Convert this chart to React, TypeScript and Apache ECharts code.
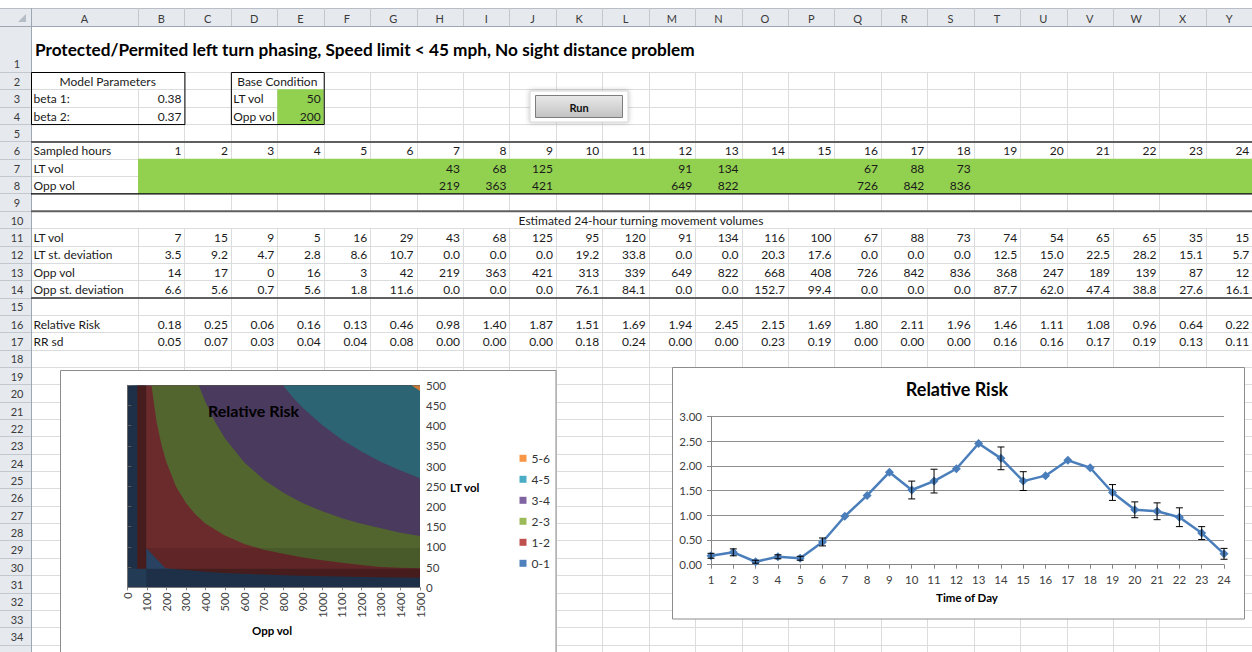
import React, { useEffect, useRef } from "react";
import * as echarts from "echarts";

// ---------------- data ----------------
const TITLE = "Protected/Permited left turn phasing, Speed limit < 45 mph, No sight distance problem";
const COLUMN_LETTERS = ["A","B","C","D","E","F","G","H","I","J","K","L","M","N","O","P","Q","R","S","T","U","V","W","X","Y"];
const HOURS = [1,2,3,4,5,6,7,8,9,10,11,12,13,14,15,16,17,18,19,20,21,22,23,24];
const MODEL_PARAMETERS: [string, string][] = [["beta 1:", "0.38"], ["beta 2:", "0.37"]];
const BASE_CONDITION: [string, string][] = [["LT vol", "50"], ["Opp vol", "200"]];
const LT_SAMPLED: (number | null)[] = [null,null,null,null,null,null,43,68,125,null,null,91,134,null,null,67,88,73,null,null,null,null,null,null];
const OPP_SAMPLED: (number | null)[] = [null,null,null,null,null,null,219,363,421,null,null,649,822,null,null,726,842,836,null,null,null,null,null,null];
const LT_VOL = [7,15,9,5,16,29,43,68,125,95,120,91,134,116,100,67,88,73,74,54,65,65,35,15];
const LT_SD = [3.5,9.2,4.7,2.8,8.6,10.7,0,0,0,19.2,33.8,0,0,20.3,17.6,0,0,0,12.5,15.0,22.5,28.2,15.1,5.7];
const OPP_VOL = [14,17,0,16,3,42,219,363,421,313,339,649,822,668,408,726,842,836,368,247,189,139,87,12];
const OPP_SD = [6.6,5.6,0.7,5.6,1.8,11.6,0,0,0,76.1,84.1,0,0,152.7,99.4,0,0,0,87.7,62.0,47.4,38.8,27.6,16.1];
const RELATIVE_RISK = [0.18,0.25,0.06,0.16,0.13,0.46,0.98,1.40,1.87,1.51,1.69,1.94,2.45,2.15,1.69,1.80,2.11,1.96,1.46,1.11,1.08,0.96,0.64,0.22];
const RR_SD = [0.05,0.07,0.03,0.04,0.04,0.08,0,0,0,0.18,0.24,0,0,0.23,0.19,0,0,0,0.16,0.16,0.17,0.19,0.13,0.11];

// contour chart: risk bands and band boundaries [Opp vol, LT vol] read from the surface
const RISK_BANDS = ["0-1", "1-2", "2-3", "3-4", "4-5", "5-6"];
const BOUNDARY_1 = [[51,500],[51,46],[97,46],[97,97],[195,47],[300,43],[400,38.7],[500,35.6],[600,33.3],[700,31.5],[800,29.9],[900,28.7],[1000,27.6],[1100,26.6],[1200,25.8],[1300,25],[1400,24.3],[1500,23.7]];
const BOUNDARY_2 = [[124,500],[150,410],[175,353],[200,310],[250,249],[300,209],[350,180],[400,158],[500,128],[600,107],[700,93],[800,83],[900,74],[1000,67],[1100,61],[1200,55],[1300,50],[1400,48.5],[1500,47]];
const BOUNDARY_3 = [[366,500],[400,459],[450,409],[500,369],[600,309],[700,266],[800,234],[900,208],[1000,188],[1100,171],[1200,157],[1300,146],[1400,135],[1500,127]];
const BOUNDARY_4 = [[797,500],[850,469],[900,444],[1000,401],[1100,365],[1200,336],[1300,310],[1400,289],[1500,270]];
const BOUNDARY_5 = [[1456,500],[1500,486]];
const BOUNDARIES = [BOUNDARY_1, BOUNDARY_2, BOUNDARY_3, BOUNDARY_4, BOUNDARY_5];
// surface cells shaded differently by the 3-D lighting: [opp1, lt1, opp2, lt2]
const SHADED_CELLS = [[0,46,97,500],[97,0,1500,46],[0,0,97,46],[97,46,1500,97]];

// ---------------- styling / layout ----------------
const FONT = "Lato, 'Open Sans', sans-serif";
const SHADE_ALPHA = [0.34, 0.34, 0.2, 0.1];
const CONTOUR_COLORS = ["#2e4a6c", "#6b2b2c", "#52652f", "#4a3a5e", "#2c6474", "#c97a36"];
const LEGEND_COLORS = ["#4f81bd", "#c0504d", "#9bbb59", "#8064a2", "#4bacc6", "#f79646"];
const W = 1252, H = 652;
const COL0 = 31, COLB = 138, COLW = 46.43;
const HEAD_TOP = 8, HEAD_BOTTOM = 26, ROW2_TOP = 72, ROWH = 17.35;
const colLeft = (i: number) => (i === 0 ? COL0 : COLB + (i - 1) * COLW);
const colRight = (i: number) => (i === 0 ? COLB : COLB + i * COLW);
const rowTop = (r: number) => (r === 1 ? HEAD_BOTTOM : ROW2_TOP + (r - 2) * ROWH);
const rowMid = (r: number) => (rowTop(r) + rowTop(r + 1)) / 2 + 0.7;

const Z = { grid: -20, fill: -19, border: -18, text: -17, frame: -16, over: 20 };

function sheetGraphics() {
  const els: any[] = [];
  const L = (x1: number, y1: number, x2: number, y2: number, stroke: string, lw: number, z: number) =>
    els.push({ type: "line", silent: true, z, shape: { x1, y1, x2, y2 }, style: { stroke, lineWidth: lw } });
  const R = (x: number, y: number, w: number, h: number, fill: any, z: number, stroke?: string, lw?: number, extra?: any) =>
    els.push({ type: "rect", silent: true, z, shape: { x, y, width: w, height: h }, style: { fill, stroke: stroke || null, lineWidth: lw || 0, ...(extra || {}) } });
  const T = (x: number, y: number, s: string, font: string, fill: string, align: string, z: number) =>
    els.push({ type: "text", silent: true, z, x, y, style: { text: s, font, fill, textAlign: align, textVerticalAlign: "middle", align, verticalAlign: "middle" } });

  const cellFont = `12px ${FONT}`;
  const textColor = "#1a1a1a";
  const gridColor = "#dadcdd";
  const lastRow = 36;

  // gridlines
  for (let r = 2; r <= lastRow; r++) {
    const y = Math.round(rowTop(r)) + 0.5;
    L(COL0, y, W, y, gridColor, 1, Z.grid);
  }
  for (let i = 1; i <= COLUMN_LETTERS.length; i++) {
    const x = Math.round(colLeft(i)) + 0.5;
    L(x, ROW2_TOP, x, rowTop(10), gridColor, 1, Z.grid);
    L(x, rowTop(11), x, H, gridColor, 1, Z.grid);
  }
  // merged cells A2:B2 and D2:E2
  R(colLeft(0) + 1, rowTop(2) + 1, colRight(1) - colLeft(0) - 2, ROWH - 1.5, "#fff", Z.fill);
  R(colLeft(3) + 1, rowTop(2) + 1, colRight(4) - colLeft(3) - 2, ROWH - 1.5, "#fff", Z.fill);
  // green input cells
  R(colLeft(4), rowTop(3), COLW, 2 * ROWH, "#92d050", Z.fill);
  R(colLeft(1), rowTop(7), W - colLeft(1), 2 * ROWH, "#92d050", Z.fill);

  // headers
  R(0, HEAD_TOP, W, HEAD_BOTTOM - HEAD_TOP, "#e6e9ee", Z.fill);
  R(0, HEAD_BOTTOM, COL0, H - HEAD_BOTTOM, "#e6e9ee", Z.fill);
  L(0, HEAD_TOP + 0.5, W, HEAD_TOP + 0.5, "#b9bec6", 1, Z.border);
  L(0, HEAD_BOTTOM + 0.5, W, HEAD_BOTTOM + 0.5, "#9ea6b1", 1, Z.border);
  L(COL0 + 0.5, HEAD_TOP, COL0 + 0.5, H, "#9ea6b1", 1, Z.border);
  els.push({ type: "polygon", silent: true, z: Z.border, shape: { points: [[18, 22], [26, 22], [26, 14]] }, style: { fill: "#b4bcc6" } });
  for (let i = 0; i < COLUMN_LETTERS.length; i++) {
    const x = Math.round(colRight(i)) + 0.5;
    L(x, HEAD_TOP, x, HEAD_BOTTOM, "#c3c8cf", 1, Z.border);
    T((colLeft(i) + colRight(i)) / 2, (HEAD_TOP + HEAD_BOTTOM) / 2 + 1, COLUMN_LETTERS[i], `11px ${FONT}`, "#3b3b3b", "center", Z.text);
  }
  for (let r = 1; r <= lastRow; r++) {
    const yb = Math.round(rowTop(r + 1)) + 0.5;
    L(0, yb, COL0, yb, "#c3c8cf", 1, Z.border);
    const ym = r === 1 ? rowTop(2) - 9 : rowMid(r);
    if (ym < H - 8) T(17, ym, String(r), `11px ${FONT}`, "#3b3b3b", "center", Z.text);
  }

  // borders
  const thick = "#5f5f5f";
  L(COL0, rowTop(6) + 0.5, W, rowTop(6) + 0.5, thick, 2, Z.border);
  L(COL0, rowTop(9) + 0.5, W, rowTop(9) + 0.5, "#000", 1.2, Z.border);
  L(COL0, rowTop(10) + 0.5, W, rowTop(10) + 0.5, thick, 2, Z.border);
  L(COL0, rowTop(15) + 0.5, W, rowTop(15) + 0.5, thick, 2, Z.border);
  R(COL0 + 0.5, rowTop(2) + 0.5, colRight(1) - COL0, rowTop(5) - rowTop(2), null, Z.border, "#000", 1);
  R(colLeft(3) + 0.5, rowTop(2) + 0.5, colRight(4) - colLeft(3), rowTop(5) - rowTop(2), null, Z.border, "#000", 1);

  // texts
  T(35, 49, TITLE, `bold 17.2px ${FONT}`, "#000", "left", Z.text);
  T((COL0 + colRight(1)) / 2, rowMid(2), "Model Parameters", cellFont, textColor, "center", Z.text);
  T((colLeft(3) + colRight(4)) / 2, rowMid(2), "Base Condition", cellFont, textColor, "center", Z.text);
  MODEL_PARAMETERS.forEach(([k, v], j) => {
    T(33.5, rowMid(3 + j), k, cellFont, textColor, "left", Z.text);
    T(colRight(1) - 3, rowMid(3 + j), v, cellFont, textColor, "right", Z.text);
  });
  BASE_CONDITION.forEach(([k, v], j) => {
    T(colLeft(3) + 2.5, rowMid(3 + j), k, cellFont, textColor, "left", Z.text);
    T(colRight(4) - 3, rowMid(3 + j), v, cellFont, textColor, "right", Z.text);
  });
  const rows: [number, string, (number | null)[], number][] = [
    [6, "Sampled hours", HOURS, 0],
    [7, "LT vol", LT_SAMPLED, 0],
    [8, "Opp vol", OPP_SAMPLED, 0],
    [11, "LT vol", LT_VOL, 0],
    [12, "LT st. deviation", LT_SD, 1],
    [13, "Opp vol", OPP_VOL, 0],
    [14, "Opp st. deviation", OPP_SD, 1],
    [16, "Relative Risk", RELATIVE_RISK, 2],
    [17, "RR sd", RR_SD, 2],
  ];
  rows.forEach(([r, label, vals, dec]) => {
    T(33.5, rowMid(r), label, cellFont, textColor, "left", Z.text);
    vals.forEach((v, i) => {
      if (v === null) return;
      T(colRight(i + 1) - 3, rowMid(r), v.toFixed(dec), cellFont, textColor, "right", Z.text);
    });
  });
  T(641, rowMid(10), "Estimated 24-hour turning movement volumes", cellFont, textColor, "center", Z.text);

  // Run button
  R(530, 91, 98, 31, "#ffffff", Z.border, "#d6d6d6", 1, { shadowBlur: 5, shadowColor: "rgba(0,0,0,0.25)" });
  R(535.5, 95.5, 87, 22, new echarts.graphic.LinearGradient(0, 0, 0, 1, [
    { offset: 0, color: "#e9e9e9" }, { offset: 1, color: "#c2c2c2" }]), Z.border, "#7d7d7d", 1);
  T(579, 107, "Run", `bold 11px ${FONT}`, "#111", "center", Z.text);

  // chart frames
  R(60.5, 370.5, 495.5, 300, "#ffffff", Z.frame, "#8c8c8c", 1);
  R(672.5, 367.5, 572, 251.5, "#ffffff", Z.frame, "#8c8c8c", 1);

  // chart texts
  T(208, 410, "Relative Risk", `bold 16px ${FONT}`, "#000", "left", Z.over);
  T(450, 487, "LT vol", `bold 11.5px ${FONT}`, "#000", "left", Z.over);
  T(272, 630, "Opp vol", `bold 11.5px ${FONT}`, "#000", "center", Z.over);
  T(957, 389, "Relative Risk", `bold 18px ${FONT}`, "#000", "center", Z.over);
  T(967, 597, "Time of Day", `bold 11.5px ${FONT}`, "#000", "center", Z.over);
  return els;
}

function buildOption(): any {
  const axisGray = "#868686";
  const labelColor = "#404040";
  const contourSeries = BOUNDARIES.map((pts, k) => ({
    name: RISK_BANDS[k + 1],
    type: "line",
    xAxisIndex: 0,
    yAxisIndex: 0,
    data: pts,
    symbol: "none",
    silent: true,
    clip: true,
    z: 2,
    lineStyle: { width: 0, color: CONTOUR_COLORS[k + 1] },
    itemStyle: { color: CONTOUR_COLORS[k + 1] },
    areaStyle: { color: CONTOUR_COLORS[k + 1], opacity: 1, origin: "end" },
  }));
  return {
    animation: false,
    textStyle: { fontFamily: FONT },
    graphic: { elements: sheetGraphics() },
    grid: [
      { left: 127.3, top: 385.3, width: 292.7, height: 202, show: true, backgroundColor: CONTOUR_COLORS[0], borderWidth: 0 },
      { left: 711, top: 416.3, width: 513, height: 148.4 },
    ],
    legend: {
      orient: "vertical",
      left: 519.5,
      top: 451.3,
      padding: 0,
      itemWidth: 7,
      itemHeight: 7,
      itemGap: 7,
      icon: "rect",
      selectedMode: false,
      textStyle: { fontSize: 12, color: "#333", lineHeight: 14, fontFamily: FONT },
      data: RISK_BANDS.map((n, i) => ({ name: n, itemStyle: { color: LEGEND_COLORS[i] } })).reverse(),
    },
    xAxis: [
      {
        gridIndex: 0, type: "value", min: 0, max: 1500, interval: 100, position: "bottom",
        axisLine: { show: true, lineStyle: { color: axisGray } },
        axisTick: { show: true, length: 3, lineStyle: { color: axisGray } },
        axisLabel: { rotate: 90, fontSize: 11, color: labelColor, margin: 5, formatter: (v: number) => String(v) },
        splitLine: { show: false },
      },
      {
        gridIndex: 1, type: "category", data: HOURS.map(String), boundaryGap: false,
        axisLine: { show: true, lineStyle: { color: axisGray } },
        axisTick: { show: true, length: 4, alignWithLabel: true, lineStyle: { color: axisGray } },
        axisLabel: { fontSize: 11.5, color: labelColor, margin: 9 },
        splitLine: { show: false },
      },
    ],
    yAxis: [
      {
        gridIndex: 0, type: "value", min: 0, max: 500, interval: 50, position: "right",
        axisLine: { show: true, lineStyle: { color: axisGray } },
        axisTick: { show: true, length: 4, lineStyle: { color: axisGray } },
        axisLabel: { fontSize: 11.5, color: labelColor, margin: 6 },
        splitLine: { show: false },
      },
      {
        gridIndex: 1, type: "value", min: 0, max: 3, interval: 0.5,
        axisLine: { show: true, lineStyle: { color: axisGray } },
        axisTick: { show: true, length: 4, lineStyle: { color: axisGray } },
        axisLabel: { fontSize: 11.5, color: labelColor, margin: 9, formatter: (v: number) => v.toFixed(2) },
        splitLine: { show: true, lineStyle: { color: "#8f8f8f", width: 1 } },
      },
    ],
    series: [
      { name: RISK_BANDS[0], type: "line", xAxisIndex: 0, yAxisIndex: 0, data: [], silent: true, itemStyle: { color: CONTOUR_COLORS[0] } },
      ...contourSeries,
      {
        type: "custom", xAxisIndex: 0, yAxisIndex: 0, silent: true, z: 3,
        data: SHADED_CELLS,
        renderItem: (params: any, api: any) => {
          const p1 = api.coord([api.value(0), api.value(1)]);
          const p2 = api.coord([api.value(2), api.value(3)]);
          return {
            type: "rect",
            shape: { x: Math.min(p1[0], p2[0]), y: Math.min(p1[1], p2[1]), width: Math.abs(p2[0] - p1[0]), height: Math.abs(p2[1] - p1[1]) },
            style: { fill: `rgba(0,0,0,${SHADE_ALPHA[params.dataIndex]})` },
          };
        },
      },
      {
        name: "Relative Risk", type: "line", xAxisIndex: 1, yAxisIndex: 1, data: RELATIVE_RISK, z: 3,
        symbol: "diamond", symbolSize: 9,
        lineStyle: { color: "#4a7ebb", width: 2.5 },
        itemStyle: { color: "#4a7ebb" },
      },
      {
        type: "custom", xAxisIndex: 1, yAxisIndex: 1, silent: true, z: 4,
        data: RELATIVE_RISK.map((v, i) => [i, v, RR_SD[i]]),
        renderItem: (_params: any, api: any) => {
          const x = api.value(0), y = api.value(1), sd = api.value(2);
          if (!sd) return null;
          const t = api.coord([x, y + sd]);
          const b = api.coord([x, y - sd]);
          const hw = 3.5;
          const st = { stroke: "#000", lineWidth: 1 };
          return {
            type: "group",
            children: [
              { type: "line", shape: { x1: t[0], y1: t[1], x2: b[0], y2: b[1] }, style: st },
              { type: "line", shape: { x1: t[0] - hw, y1: t[1], x2: t[0] + hw, y2: t[1] }, style: st },
              { type: "line", shape: { x1: b[0] - hw, y1: b[1], x2: b[0] + hw, y2: b[1] }, style: st },
            ],
          };
        },
      },
    ],
  };
}

export default function App() {
  const ref = useRef<HTMLDivElement>(null);
  useEffect(() => {
    const el = ref.current;
    if (!el) return;
    const chart = echarts.init(el, null, { renderer: "svg" });
    chart.setOption(buildOption());
    return () => chart.dispose();
  }, []);
  return <div ref={ref} style={{ position: "fixed", left: 0, top: 0, width: W, height: H, background: "#fff" }} />;
}
